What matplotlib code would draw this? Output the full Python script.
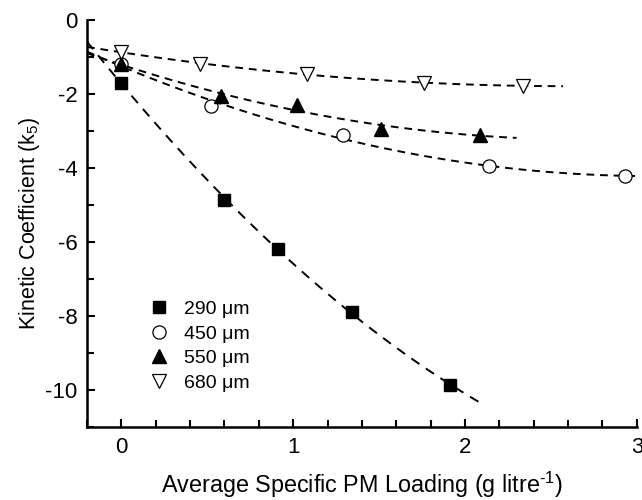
import numpy as np
import matplotlib
matplotlib.use("Agg")
import matplotlib.pyplot as plt
from matplotlib.ticker import MultipleLocator

plt.rcParams['font.family'] = ['Liberation Sans', 'DejaVu Sans']
plt.rcParams['mathtext.fontset'] = 'custom'
plt.rcParams['mathtext.rm'] = 'Liberation Sans'
plt.rcParams['mathtext.it'] = 'Liberation Sans'
plt.rcParams['axes.unicode_minus'] = False

labels = ["290 μm", "450 μm", "550 μm", "680 μm"]
x290 = [0.0, 0.60, 0.91, 1.34, 1.91]
y290 = [-1.70, -4.86, -6.20, -7.88, -9.86]
x450 = [0.0, 0.52, 1.29, 2.14, 2.93]
y450 = [-1.18, -2.32, -3.12, -3.95, -4.22]
x550 = [0.0, 0.58, 1.02, 1.51, 2.09]
y550 = [-1.20, -2.06, -2.30, -2.95, -3.10]
x680 = [0.0, 0.46, 1.08, 1.76, 2.34]
y680 = [-0.86, -1.20, -1.45, -1.70, -1.78]

# fit ranges (x start, x end)
fit_ranges = [(-0.2, 2.10), (-0.2, 3.0), (-0.2, 2.30), (-0.2, 2.57)]

fig = plt.figure(figsize=(6.42, 5.0), dpi=100)
ax = fig.add_axes([0.1355, 0.146, 0.8565, 0.814])

series = [(x290, y290, dict(marker='s', mfc='black', mec='black', ms=8)),
          (x450, y450, dict(marker='o', mfc='white', mec='black', ms=9.5, mew=0.9)),
          (x550, y550, dict(marker='^', mfc='black', mec='black', ms=10)),
          (x680, y680, dict(marker='v', mfc='white', mec='black', ms=10, mew=0.9))]
dashes = [(5, 4), (4, 3), (4, 3), (4, 3)]

for (xs, ys, st), lab, rng, dsh in zip(series, labels, fit_ranges, dashes):
    coef = np.polyfit(xs, ys, 2)
    xf = np.linspace(rng[0], rng[1], 200)
    ax.plot(xf, np.polyval(coef, xf), color='black', lw=1.4, dashes=dsh, zorder=2)
for (xs, ys, st), lab in zip(series, labels):
    ax.plot(xs, ys, linestyle='none', label=lab, zorder=3, **st)

ax.set_xlim(-0.2, 3.0)
ax.set_ylim(-11, 0)
ax.xaxis.set_major_locator(MultipleLocator(1))
ax.xaxis.set_minor_locator(MultipleLocator(0.2))
ax.yaxis.set_major_locator(MultipleLocator(2))
ax.yaxis.set_minor_locator(MultipleLocator(1))
for s in ['top', 'right']:
    ax.spines[s].set_visible(False)
for s in ['left', 'bottom']:
    ax.spines[s].set_linewidth(1.8)
ax.tick_params(which='both', direction='in', width=1.5, labelsize=16)
ax.tick_params(which='major', length=6, pad=7)
ax.tick_params(which='minor', length=5)

ax.set_xlabel("Average Specific PM Loading (g litre$^{\u2010 1}$)", fontsize=16.8, labelpad=9)
ax.set_ylabel("Kinetic Coefficient (k$_5$)", fontsize=15.5, labelpad=2)

ax.legend(loc='upper left', bbox_to_anchor=(0.095, 0.33), frameon=False,
          fontsize=14, handletextpad=0.7, labelspacing=0.36, handlelength=1.2,
          borderaxespad=0)

fig.savefig("out.png", dpi=100)
